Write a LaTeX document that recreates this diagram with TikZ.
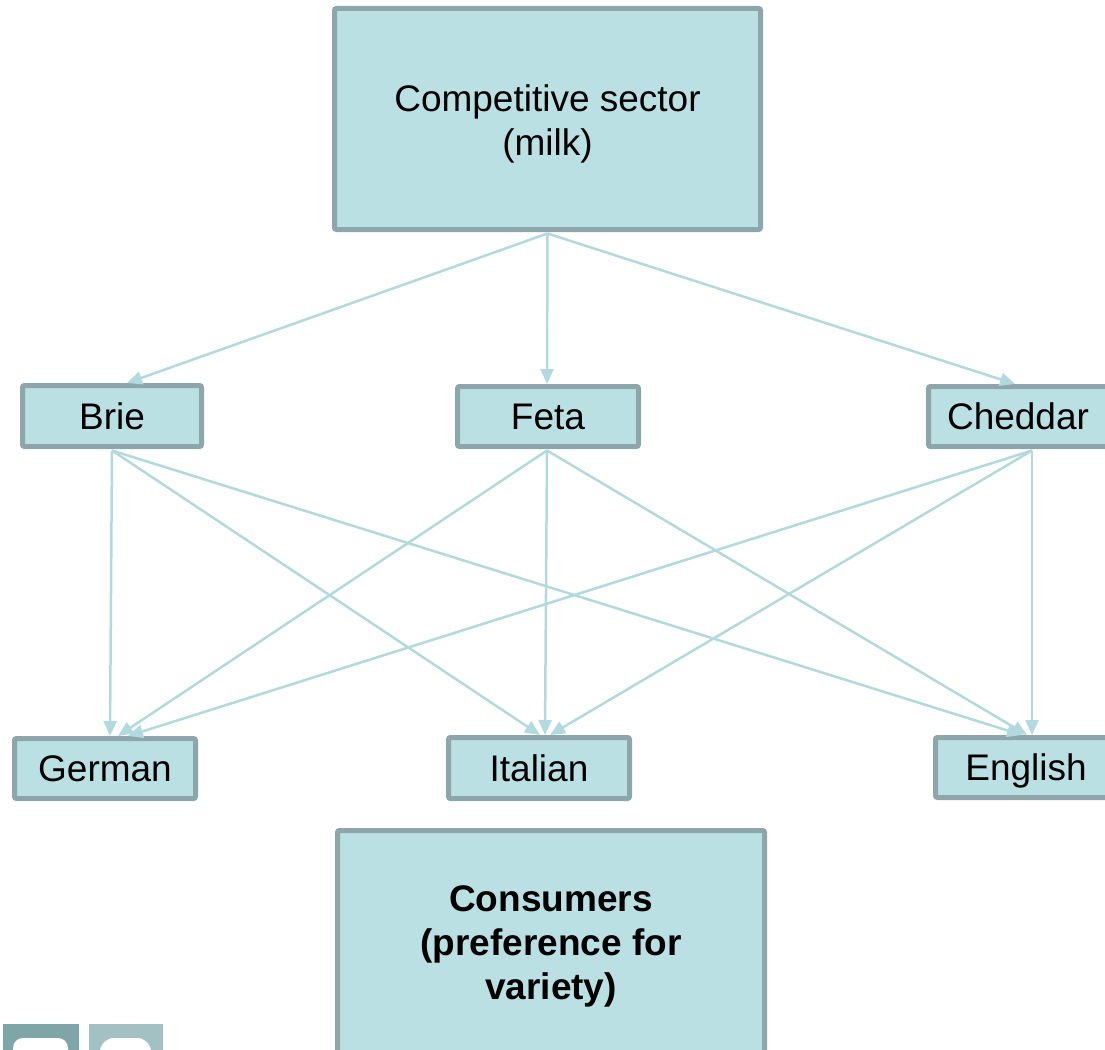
\documentclass[tikz,border=0pt]{standalone}
\usepackage{fontspec}
\setmainfont{Liberation Sans}
\usetikzlibrary{arrows.meta,calc}
\definecolor{boxfill}{HTML}{BBE0E3}
\definecolor{boxline}{HTML}{8CA6A9}
\definecolor{arrowc}{HTML}{B2DADE}
\definecolor{logoA}{HTML}{7EA6A8}
\definecolor{logoB}{HTML}{A3C1C3}
\tikzset{
  box/.style={draw=boxline, fill=boxfill, line width=5pt, rounded corners=2pt,
    inner sep=0pt, align=center, font=\fontsize{37}{44}\selectfont},
  smallbox/.style={box, text height=30pt, text depth=4pt},
  boxtext/.style={inner sep=0pt, align=center, font=\fontsize{37}{44}\selectfont},
  conn/.style={draw=arrowc, line width=2.5pt, -{Triangle[length=15pt,width=13pt]}}
}
\begin{document}
\begin{tikzpicture}[x=1pt,y=-1pt]
\useasboundingbox (0,0) rectangle (1105,1049);
\clip (0,0) rectangle (1105,1049);
% logo fragments
\fill[logoA] (3,1024) rectangle (79,1060);
\fill[white,rounded corners=10pt] (13,1060) -- (13,1038) -- (68,1038) -- (68,1060);
\fill[logoB] (89,1024) rectangle (163,1060);
\fill[white,rounded corners=14pt] (100,1060) -- (100,1038) -- (151,1038) -- (151,1060);

\node[box, minimum width=426pt, minimum height=221pt] (comp) at (547.5,119) {};
\node[boxtext] (comptext) at ($(comp.center)+(0,5)$) {Competitive sector\\(milk)};
\node[smallbox, minimum width=179pt, minimum height=61pt] (brie) at (112,416) {Brie};
\node[smallbox, minimum width=181pt, minimum height=60pt] (feta) at (548,416.5) {Feta};
\node[smallbox, minimum width=179pt, minimum height=60pt] (cheddar) at (1018,416.5) {Cheddar};
\node[smallbox, minimum width=181pt, minimum height=60pt] (german) at (105,768.5) {German};
\node[smallbox, minimum width=181pt, minimum height=61pt] (italian) at (539,768) {Italian};
\node[smallbox, minimum width=181pt, minimum height=60pt] (english) at (1026,767.5) {English};
\node[box, minimum width=427pt, minimum height=225pt] (cons) at (551,943) {};
\node[boxtext, font=\fontsize{37}{44}\selectfont\bfseries] (constext) at ($(cons.center)+(0,3)$) {Consumers\\(preference for\\variety)};

\coordinate (cs) at ($(comp.south)+(0,1.5)$);
\coordinate (bs) at ($(brie.south)+(0,1.5)$);
\coordinate (fs) at ($(feta.south)+(-1,1.5)$);
\coordinate (chs) at ($(cheddar.south)+(14,1.5)$);

\draw[conn] (cs) -- ($(brie.north)+(15,0)$);
\draw[conn] (cs) -- ($(feta.north)+(-1,0)$);
\draw[conn] (cs) -- ($(cheddar.north)+(-3,0)$);

\draw[conn] (bs) -- ($(german.north)+(5,0)$);
\draw[conn] (bs) -- ($(italian.north)+(1,0)$);
\draw[conn] (bs) -- ($(english.north)+(-4,0)$);

\draw[conn] (fs) -- ($(german.north)+(13,0)$);
\draw[conn] (fs) -- ($(italian.north)+(6,0)$);
\draw[conn] (fs) -- ($(english.north)+(1,0)$);

\draw[conn] (chs) -- ($(german.north)+(23,0)$);
\draw[conn] (chs) -- ($(italian.north)+(11,0)$);
\draw[conn] (chs) -- ($(english.north)+(6,0)$);
\end{tikzpicture}
\end{document}
